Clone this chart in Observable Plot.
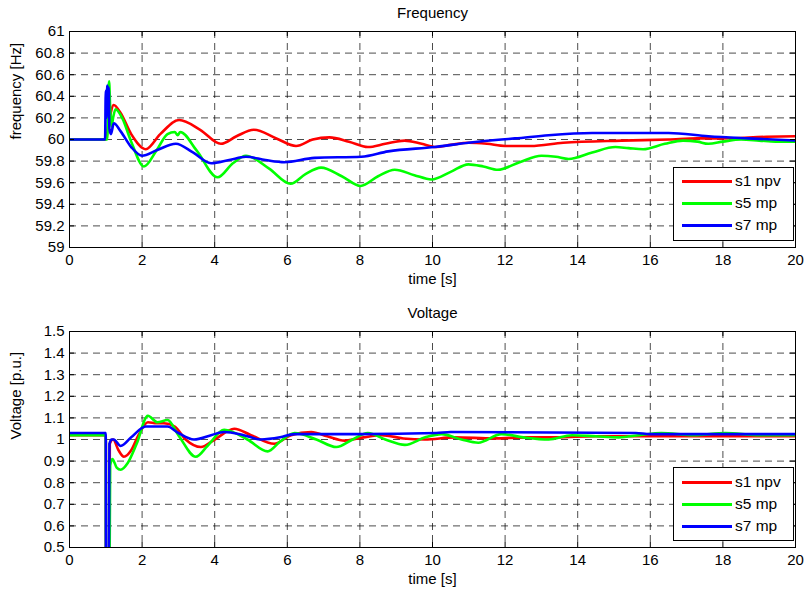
<!DOCTYPE html>
<html>
<head>
<meta charset="utf-8">
<script src="https://cdn.jsdelivr.net/npm/d3@7"></script>
<script src="https://cdn.jsdelivr.net/npm/@observablehq/plot@0.6"></script>
<style>
  html, body { margin: 0; padding: 0; background: #fff; }
  #wrap { position: relative; width: 807px; height: 597px; font-family: "Liberation Sans", Arial, sans-serif; }
  .plotbox { position: absolute; left: 0; }
  .legend { position: absolute; background: #fff; border: 1px solid #000; box-sizing: border-box; font-size: 15.5px; }
  .legend .row { position: absolute; left: 0; right: 0; height: 20px; }
  .legend .ln { position: absolute; left: 8px; width: 50px; top: 9px; height: 3px; }
  .legend .lb { position: absolute; left: 61px; top: 1px; line-height: 18px; color: #000; }
</style>
</head>
<body>
<div id="wrap"></div>
<script>
// ---------- data ----------
const seriesNames = ["s1 npv", "s5 mp", "s7 mp"];
const seriesColors = ["#ff0000", "#00ff00", "#0000ff"];

const xTicks = [0, 2, 4, 6, 8, 10, 12, 14, 16, 18, 20];
const freqTicks = [59, 59.2, 59.4, 59.6, 59.8, 60, 60.2, 60.4, 60.6, 60.8, 61];
const voltTicks = [0.5, 0.6, 0.7, 0.8, 0.9, 1, 1.1, 1.2, 1.3, 1.4, 1.5];

// Frequency [Hz]
const fS1t = [0, 1.0, 1.08, 1.22, 1.4, 1.7, 2.1, 2.5, 3.02, 3.6, 4.17, 4.6, 5.08, 5.7, 6.24, 6.7, 7.16, 7.7, 8.22, 8.7, 9.23, 9.7, 10.1, 10.5, 11.0, 11.5, 12.0, 12.7, 13.6, 15.2, 16.5, 17.3, 18.0, 19.2, 20];
const fS1v = [60, 60, 60.15, 60.32, 60.25, 60.05, 59.91, 60.05, 60.18, 60.09, 59.96, 60.03, 60.09, 60.01, 59.94, 60.0, 60.02, 59.98, 59.93, 59.96, 59.99, 59.96, 59.93, 59.95, 59.97, 59.96, 59.94, 59.94, 59.97, 59.99, 60.0, 60.01, 60.01, 60.025, 60.03];

const fS5t = [0, 1.0, 1.04, 1.07, 1.09, 1.12, 1.16, 1.2, 1.27, 1.45, 1.7, 2.05, 2.4, 2.7, 2.9, 2.98, 3.05, 3.5, 4.08, 4.5, 4.86, 5.5, 6.09, 6.5, 6.93, 7.5, 8.02, 8.5, 8.96, 9.5, 9.97, 10.5, 10.99, 11.4, 11.8, 12.4, 13.0, 13.4, 13.75, 14.4, 15.04, 15.4, 15.8, 16.4, 16.9, 17.3, 17.6, 18.0, 18.5, 19.0, 19.45, 20];
const fS5v = [60, 60, 60.0, 60.45, 60.54, 60.3, 60.12, 60.2, 60.28, 60.2, 59.98, 59.75, 59.9, 60.05, 60.07, 60.04, 60.07, 59.9, 59.65, 59.78, 59.85, 59.73, 59.59, 59.68, 59.74, 59.66, 59.57, 59.66, 59.72, 59.67, 59.63, 59.7, 59.77, 59.75, 59.72, 59.79, 59.85, 59.84, 59.82, 59.88, 59.93, 59.92, 59.91, 59.96, 59.99, 59.98, 59.96, 59.98, 60.0, 59.99, 59.98, 59.98];

const fS7t = [0, 0.98, 1.0, 1.02, 1.04, 1.06, 1.08, 1.1, 1.14, 1.22, 1.4, 1.7, 2.0, 2.4, 2.93, 3.4, 3.9, 4.4, 4.86, 5.4, 5.92, 6.75, 8.04, 8.78, 10.06, 10.99, 11.9, 12.27, 13.2, 14.4, 16.5, 17.6, 18.7, 20];
const fS7v = [60, 60, 60.45, 60.2, 60.5, 60.25, 60.48, 60.1, 60.05, 60.15, 60.08, 59.93, 59.85, 59.9, 59.96, 59.88, 59.78, 59.81, 59.84, 59.81, 59.79, 59.83, 59.84, 59.89, 59.93, 59.97, 60.0, 60.01, 60.04, 60.06, 60.06, 60.03, 60.01, 59.99];

// Voltage [p.u.]
const vS1t = [0, 1.0, 1.005, 1.1, 1.11, 1.2, 1.35, 1.5, 1.7, 1.9, 2.16, 2.4, 2.6, 2.9, 3.2, 3.62, 4.0, 4.54, 5.0, 5.64, 6.1, 6.66, 7.1, 7.58, 8.1, 8.6, 9.2, 9.79, 10.6, 11.7, 12.6, 13.4, 14.5, 16, 18, 20];
const vS1v = [1.02, 1.02, 0.3, 0.3, 0.98, 1.0, 0.95, 0.92, 0.95, 1.02, 1.08, 1.075, 1.075, 1.06, 1.0, 0.965, 1.0, 1.05, 1.02, 0.98, 1.02, 1.035, 1.015, 0.995, 1.01, 1.02, 1.005, 1.0, 1.01, 1.005, 1.01, 1.01, 1.015, 1.015, 1.015, 1.015];

const vS5t = [0, 1.0, 1.005, 1.1, 1.12, 1.18, 1.3, 1.41, 1.6, 1.85, 2.16, 2.42, 2.7, 3.0, 3.48, 3.8, 4.26, 4.9, 5.46, 5.8, 6.2, 6.8, 7.35, 7.8, 8.22, 8.7, 9.24, 9.8, 10.25, 10.8, 11.26, 11.9, 12.5, 13.2, 13.84, 14.5, 15.13, 15.7, 16.3, 17.2, 18.07, 19, 20];
const vS5v = [1.02, 1.02, 0.3, 0.3, 0.88, 0.91, 0.87, 0.86, 0.89, 0.98, 1.11, 1.08, 1.09, 1.02, 0.92, 0.97, 1.045, 1.0, 0.945, 0.99, 1.03, 1.0, 0.965, 1.0, 1.03, 1.0, 0.975, 1.01, 1.025, 1.0, 0.985, 1.025, 1.01, 1.0, 1.02, 1.015, 1.01, 1.02, 1.03, 1.02, 1.03, 1.02, 1.02];

const vS7t = [0, 1.0, 1.005, 1.08, 1.1, 1.16, 1.22, 1.41, 1.7, 2.1, 2.7, 3.0, 3.43, 3.9, 4.26, 4.8, 5.27, 5.8, 6.2, 8, 10.1, 10.5, 15.6, 16, 20];
const vS7v = [1.03, 1.03, 0.3, 0.3, 0.98, 1.0, 1.0, 0.97, 1.01, 1.06, 1.06, 1.03, 1.0, 1.02, 1.035, 1.02, 1.0, 1.01, 1.025, 1.025, 1.03, 1.035, 1.03, 1.025, 1.025];

// ---------- build ----------
function rows(ts, vs, s) { return ts.map((t, i) => ({t, v: vs[i], s})); }
const freqData = [
  ...rows(fS1t, fS1v, seriesNames[0]),
  ...rows(fS5t, fS5v, seriesNames[1]),
  ...rows(fS7t, fS7v, seriesNames[2])
];
const voltData = [
  ...rows(vS1t, vS1v, seriesNames[0]),
  ...rows(vS5t, vS5v, seriesNames[1]),
  ...rows(vS7t, vS7v, seriesNames[2])
];

const FONT = "'Liberation Sans', Arial, sans-serif";
const FS = 15;
const fmt = d => String(+(+d).toFixed(1));

function panel({data, yDomain, yTicks, title, ylabel, height, mTop, mBottom}) {
  const mLeft = 69, mRight = 12, W = 807;
  const fw = W - mLeft - mRight, fh = height - mTop - mBottom;
  const dash = {stroke: "#000", strokeOpacity: 0.7, strokeDasharray: "7,5", strokeWidth: 1};
  return Plot.plot({
    width: W, height,
    marginLeft: mLeft, marginRight: mRight, marginTop: mTop, marginBottom: mBottom,
    style: {fontFamily: FONT, fontSize: FS + "px", background: "#fff", color: "#000", overflow: "visible"},
    x: {domain: [0, 20], ticks: xTicks, label: null},
    y: {domain: yDomain, ticks: yTicks, label: null},
    color: {domain: seriesNames, range: seriesColors},
    marks: [
      Plot.gridX(xTicks, dash),
      Plot.gridY(yTicks, dash),
      Plot.line(data, {x: "t", y: "v", z: "s", stroke: "s", strokeWidth: 2.6, curve: "monotone-x", clip: true}),
      Plot.frame({stroke: "#000", strokeWidth: 1}),
      Plot.ruleY(yTicks, {stroke: "#000", insetRight: fw - 5}),
      Plot.ruleY(yTicks, {stroke: "#000", insetLeft: fw - 5}),
      Plot.ruleX(xTicks, {stroke: "#000", insetBottom: fh - 5}),
      Plot.ruleX(xTicks, {stroke: "#000", insetTop: fh - 5}),
      Plot.axisX({ticks: xTicks, tickSize: 0, tickPadding: 7, tickFormat: fmt, label: null}),
      Plot.axisY({ticks: yTicks, tickSize: 0, tickPadding: 5, tickFormat: fmt, label: null}),
      Plot.text([title], {text: d => d, frameAnchor: "top", dy: -24, fontSize: FS}),
      Plot.text(["time [s]"], {text: d => d, frameAnchor: "bottom", dy: 36, fontSize: FS}),
      Plot.text([ylabel], {text: d => d, frameAnchor: "left", dx: -53, rotate: -90, fontSize: FS})
    ]
  });
}

function legend(left, top, width, height, rowTops) {
  const el = document.createElement("div");
  el.className = "legend";
  Object.assign(el.style, {left: left + "px", top: top + "px", width: width + "px", height: height + "px"});
  seriesNames.forEach((n, i) => {
    const r = document.createElement("div");
    r.className = "row";
    r.style.top = rowTops[i] + "px";
    const ln = document.createElement("div");
    ln.className = "ln";
    ln.style.background = seriesColors[i];
    const lb = document.createElement("div");
    lb.className = "lb";
    lb.textContent = n;
    r.appendChild(ln); r.appendChild(lb);
    el.appendChild(r);
  });
  return el;
}

const wrap = document.getElementById("wrap");

const top1 = document.createElement("div");
top1.className = "plotbox"; top1.style.top = "0px";
top1.appendChild(panel({data: freqData, yDomain: [59, 61], yTicks: freqTicks, title: "Frequency", ylabel: "frequency [Hz]", height: 300, mTop: 31, mBottom: 53}));
wrap.appendChild(top1);

const top2 = document.createElement("div");
top2.className = "plotbox"; top2.style.top = "300px";
top2.appendChild(panel({data: voltData, yDomain: [0.5, 1.5], yTicks: voltTicks, title: "Voltage", ylabel: "Voltage [p.u.]", height: 297, mTop: 31, mBottom: 50}));
wrap.appendChild(top2);

wrap.appendChild(legend(673, 167, 121, 74, [3, 25, 47]));
wrap.appendChild(legend(673, 467, 121, 74, [4, 26, 48]));
</script>
</body>
</html>
